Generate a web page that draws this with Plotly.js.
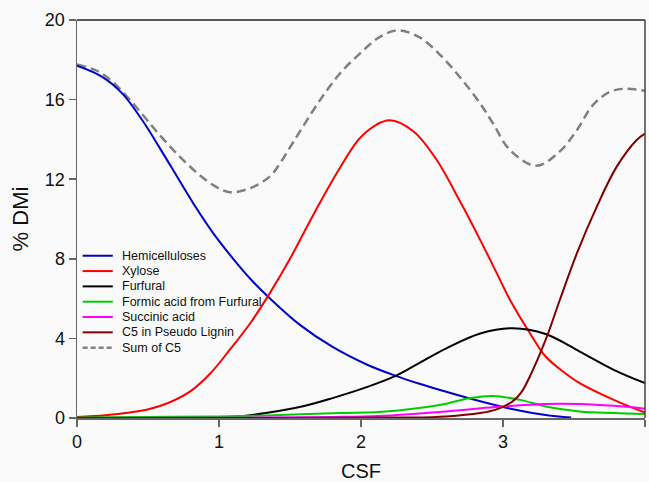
<!DOCTYPE html>
<html>
<head>
<meta charset="utf-8">
<script src="https://cdn.plot.ly/plotly-3.0.1.min.js"></script>
<style>html,body{margin:0;padding:0;background:#fafafa;}#chart{width:649px;height:482px;}</style>
</head>
<body>
<div id="chart"></div>
<script>
// ---- data ----
const seriesNames = ["Hemicelluloses","Xylose","Furfural","Formic acid from Furfural","Succinic acid","C5 in Pseudo Lignin","Sum of C5"];

const hemiX = [0,0.18,0.32,0.46,0.58,0.72,0.84,0.96,1.10,1.22,1.36,1.57,1.80,2.04,2.24,2.40,2.60,2.84,3.07,3.30,3.48];
const hemiY = [17.7,17.13,16.3,14.96,13.6,11.95,10.55,9.28,8.0,7.0,6.0,4.68,3.57,2.69,2.13,1.75,1.32,0.84,0.44,0.15,0.02];

const xyloseX = [0,0.2,0.36,0.51,0.65,0.80,0.94,1.075,1.22,1.36,1.50,1.66,1.85,2.01,2.20,2.37,2.53,2.70,2.84,2.98,3.05,3.19,3.30,3.42,3.54,3.78,4.0];
const xyloseY = [0.05,0.14,0.26,0.45,0.78,1.35,2.25,3.42,4.76,6.3,8.0,10.15,12.55,14.2,14.96,14.4,13.0,10.85,8.94,6.93,5.93,4.26,3.09,2.35,1.75,0.91,0.27];

const furfuralX = [0,0.8,1.1,1.33,1.6,1.80,2.04,2.24,2.40,2.60,2.84,3.07,3.30,3.54,3.78,4.0];
const furfuralY = [0,0.02,0.06,0.25,0.6,1.0,1.55,2.1,2.72,3.5,4.25,4.51,4.22,3.34,2.42,1.75];

const formicX = [0,0.5,1.0,1.33,1.85,2.13,2.41,2.60,2.77,2.93,3.12,3.30,3.54,3.78,4.0];
const formicY = [0.03,0.05,0.08,0.13,0.25,0.3,0.5,0.72,1.0,1.11,0.91,0.58,0.33,0.25,0.2];

const succinicX = [0,1.0,1.8,2.13,2.6,2.95,3.3,3.54,3.78,4.0];
const succinicY = [0,0.01,0.05,0.1,0.33,0.55,0.7,0.7,0.61,0.47];

const ligninX = [0,1.5,2.3,2.6,2.84,2.95,3.07,3.13,3.19,3.30,3.40,3.52,3.66,3.80,3.94,4.0];
const ligninY = [0,0,0.02,0.08,0.25,0.42,0.85,1.3,2.1,3.92,5.93,8.27,10.61,12.62,13.96,14.29];

const sumX = [0,0.14,0.25,0.42,0.56,0.70,0.84,0.96,1.075,1.22,1.36,1.43,1.50,1.57,1.71,1.85,1.99,2.13,2.26,2.41,2.55,2.70,2.84,2.93,3.05,3.235,3.40,3.52,3.63,3.75,3.87,4.0];
const sumY = [17.76,17.45,16.9,15.6,14.4,13.3,12.35,11.7,11.35,11.55,12.15,12.8,13.6,14.4,15.96,17.3,18.3,19.14,19.48,19.14,18.3,17.1,15.8,14.8,13.46,12.67,13.4,14.46,15.7,16.38,16.55,16.43];

const xTicks = [0,1,2,3,4];
const yTicks = [0,4,8,12,16,20];

// ---- styles ----
const colors = ["#0000cc","#ff0000","#000000","#00cc00","#ff00ff","#800000","#808080"];
const dashes = ["solid","solid","solid","solid","solid","solid","9px,5px"];
const widths = [2,2,2,2,2,2,2.5];
const xs = [hemiX,xyloseX,furfuralX,formicX,succinicX,ligninX,sumX];
const ys = [hemiY,xyloseY,furfuralY,formicY,succinicY,ligninY,sumY];

const font = "Arial, 'Liberation Sans', sans-serif";

const traces = seriesNames.map((n,i)=>({
  x: xs[i], y: ys[i], name: n, type: "scatter", mode: "lines",
  line: {color: colors[i], width: widths[i], dash: dashes[i], shape: "spline", smoothing: 1},
  showlegend: false, hoverinfo: "skip"
}));
const ordered = [traces[6]].concat(traces.slice(0,6));

// manual legend (compact spacing as in reference)
const legTop = 0.4077, legStep = 0.0385;
const shapes = [
  {type:"line", xref:"paper", yref:"paper", x0:0, x1:1, y0:1, y1:1, line:{color:"#222", width:1.5}},
  {type:"line", xref:"paper", yref:"paper", x0:1, x1:1, y0:0, y1:1, line:{color:"#444", width:1.5}}
];
const annotations = [];
seriesNames.forEach((n,i)=>{
  const yy = legTop - i*legStep;
  shapes.push({type:"line", xref:"paper", yref:"paper", x0:0.010, x1:0.063, y0:yy, y1:yy,
    line:{color: colors[i], width: widths[i], dash: i===6 ? "5px,3px" : "solid"}});
  annotations.push({xref:"paper", yref:"paper", x:0.0757, y:yy, xanchor:"left", yanchor:"middle",
    text:n, showarrow:false, font:{family:font, size:12.5, color:"#111"}});
});

const layout = {
  width: 649, height: 482,
  margin: {l:77, r:4, t:20, b:64},
  paper_bgcolor: "#fafafa", plot_bgcolor: "#fafafa",
  font: {family: font, color: "#111"},
  xaxis: {
    range: [0,4], tickvals: xTicks, ticks: "outside", ticklen: 7, tickcolor: "#666", tickwidth: 1.5,
    showline: true, linecolor: "#666", linewidth: 1.5, showgrid: false, zeroline: false,
    tickfont: {family: font, size: 18, color: "#111"},
    title: {text: "CSF", font: {family: font, size: 20, color: "#111"}, standoff: 20}
  },
  yaxis: {
    range: [0,20], tickvals: yTicks, ticks: "outside", ticklen: 7, tickcolor: "#666", tickwidth: 1.5,
    showline: true, linecolor: "#666", linewidth: 1.5, showgrid: false, zeroline: false,
    tickfont: {family: font, size: 18, color: "#111"},
    title: {text: "% DMi", font: {family: font, size: 22, color: "#111"}, standoff: 10}
  },
  shapes: shapes,
  annotations: annotations,
  showlegend: false
};

Plotly.newPlot("chart", ordered, layout, {displayModeBar: false, staticPlot: true});
</script>
</body>
</html>
